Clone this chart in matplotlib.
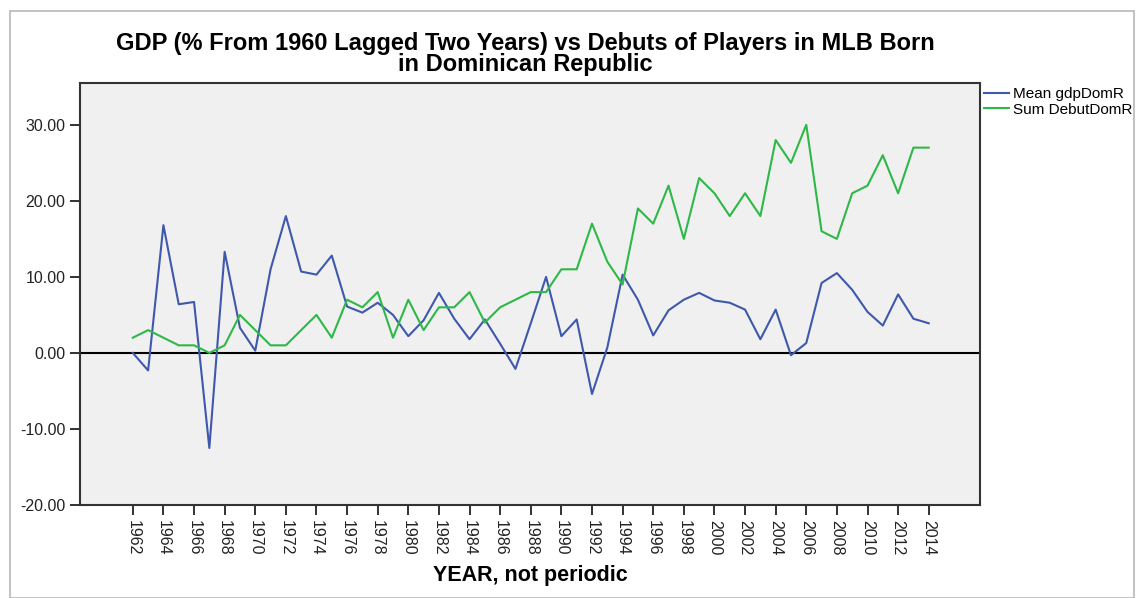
import matplotlib
matplotlib.use("Agg")
import matplotlib.pyplot as plt
from matplotlib.patches import Rectangle

plt.rcParams["font.family"] = ["Liberation Sans", "DejaVu Sans"]

years = list(range(1962, 2015))

# mean GDP change (% from 1960, lagged two years)
gdp_dom = [0.0, -2.3, 16.8, 6.4, 6.7, -12.5, 13.3, 3.3, 0.3, 11.0,
           18.0, 10.7, 10.3, 12.8, 6.1, 5.3, 6.6, 5.0, 2.2, 4.3,
           7.9, 4.5, 1.8, 4.4, 1.2, -2.1, 3.9, 10.0, 2.2, 4.4,
           -5.4, 0.7, 10.3, 7.0, 2.3, 5.6, 7.0, 7.9, 6.9, 6.6,
           5.7, 1.8, 5.7, -0.3, 1.3, 9.2, 10.5, 8.3, 5.4, 3.6,
           7.7, 4.5, 3.9]

# number of MLB debuts of players born in the Dominican Republic
debut_dom = [2, 3, 2, 1, 1, 0, 1, 5, 3, 1,
             1, 3, 5, 2, 7, 6, 8, 2, 7, 3,
             6, 6, 8, 4, 6, 7, 8, 8, 11, 11,
             17, 12, 9, 19, 17, 22, 15, 23, 21, 18,
             21, 18, 28, 25, 30, 16, 15, 21, 22, 26,
             21, 27, 27]

tick_years = list(range(1962, 2015, 2))
y_ticks = [-20, -10, 0, 10, 20, 30]

blue = "#3E58AC"
green = "#2EB848"

fig = plt.figure(figsize=(11.37, 5.98), dpi=100)
fig.patches.append(Rectangle((10 / 1137, 0), 1124 / 1137, 587 / 598,
                             transform=fig.transFigure, fill=False,
                             edgecolor="#b8b8b8", linewidth=1.2))

ax = fig.add_axes([80 / 1137, 93 / 598, 900 / 1137, 422 / 598])
ax.set_facecolor("#F0F0F0")

ax.plot(years, gdp_dom, color=blue, linewidth=1.5, label="Mean gdpDomR")
ax.plot(years, debut_dom, color=green, linewidth=1.5, label="Sum DebutDomR")
ax.axhline(0, color="black", linewidth=1.5, zorder=1)

ax.set_xlim(1958.55, 2017.35)
ax.set_ylim(-20, 35.5)

ax.set_yticks(y_ticks)
ax.set_yticklabels([f"{v:.2f}" for v in y_ticks], fontsize=11.5, color="#222222")
ax.set_xticks(tick_years)
ax.set_xticklabels([str(y) for y in tick_years], rotation=-90, fontsize=11.5,
                   color="#222222")
ax.tick_params(axis="both", direction="out", length=7, width=1.3, color="#222222")

for s in ax.spines.values():
    s.set_linewidth(1.5)
    s.set_color("#333333")

ax.set_xlabel("YEAR, not periodic", fontsize=15.5, fontweight="bold", labelpad=7)

fig.text(0.462, 0.91,
         "GDP (% From 1960 Lagged Two Years) vs Debuts of Players in MLB Born\nin Dominican Republic",
         ha="center", va="center", fontsize=17, fontweight="bold", linespacing=0.86)

ax.legend(loc="upper left", bbox_to_anchor=(0.998, 1.005), frameon=False,
          fontsize=11, handlelength=1.6, handletextpad=0.3, labelspacing=0.1,
          borderaxespad=0.0)

fig.savefig("out.png", dpi=100)
